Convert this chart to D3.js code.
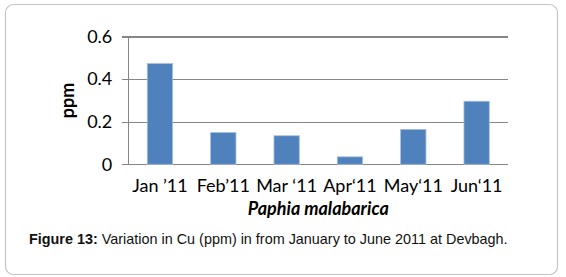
<!DOCTYPE html>
<html lang="en">
<head>
<meta charset="UTF-8">
<title>Cu ppm</title>
<script src="https://cdn.jsdelivr.net/npm/d3@7"></script>
<style>
    body { margin: 0; background: #fff; }
    .axis path { display: none; }
    .grid line { stroke: #868686; stroke-width: 1.3; shape-rendering: crispEdges; }
    .tick text { font-family: Lato, "Open Sans", sans-serif; font-size: 18px; fill: #000; }
</style>
</head>
<body>
<div id="output"></div>
<script>

var months = ["Jan \u201911", "Feb\u201911", "Mar \u201811", "Apr\u201811", "May\u201811", "Jun\u201811"];
var cuValues = [0.473, 0.149, 0.134, 0.035, 0.164, 0.296];
var yTicks = [0, 0.2, 0.4, 0.6];

var w = 566;
var h = 277;

var svg = d3.select("#output")
            .append("svg")
            .attr("width", w)
            .attr("height", h);

// outer frame
svg.append("rect")
    .attr("x", 5.5).attr("y", 4.5)
    .attr("width", 552).attr("height", 270)
    .attr("rx", 8)
    .attr("fill", "none")
    .attr("stroke", "#c4c4c4")
    .attr("stroke-width", 1.2);

var plotLeft = 128.3, plotRight = 508.3, plotTop = 36.5, plotBottom = 164.3;

var xScale = d3.scaleBand()
        .domain(months)
        .range([plotLeft, plotRight])
        .paddingInner(0.6)
        .paddingOuter(0.3);

var yScale = d3.scaleLinear()
        .domain([0, 0.6])
        .range([plotBottom, plotTop]);

// gridlines + y labels
var yAxis = svg.append("g")
        .attr("class", "axis grid")
        .attr("transform", "translate(" + plotRight + ",0)")
        .call(d3.axisLeft(yScale)
            .tickValues(yTicks)
            .tickSize(plotRight - plotLeft + 6)
            .tickPadding(10)
            .tickFormat(function(d){ return d === 0 ? "0" : d3.format(".1f")(d); }));

// vertical axis line
svg.append("line")
    .attr("x1", plotLeft).attr("x2", plotLeft)
    .attr("y1", yScale(0.6)).attr("y2", yScale(0))
    .attr("stroke", "#868686")
    .attr("stroke-width", 1.3)
    .attr("shape-rendering", "crispEdges");

svg.append("g").selectAll("rect")
    .data(cuValues)
    .enter()
    .append("rect")
        .attr("x", function(d, i){ return xScale(months[i]); })
        .attr("y", function(d){ return yScale(d); })
        .attr("width", xScale.bandwidth())
        .attr("height", function(d){ return yScale(0) - yScale(d); })
        .attr("fill", "#4f81bd")
        .attr("stroke", "#a7bedd")
        .attr("stroke-width", 0.8);

var xAxis = svg.append("g")
        .attr("class", "axis")
        .attr("transform", "translate(0," + plotBottom + ")")
        .call(d3.axisBottom(xScale).tickSize(0).tickPadding(15));
xAxis.selectAll("text").attr("dy", "0.71em");

svg.append("text")
    .attr("x", (plotLeft + plotRight) / 2)
    .attr("y", 215)
    .attr("text-anchor", "middle")
    .style("font-family", "Lato, 'Open Sans', sans-serif")
    .style("font-size", "18px")
    .style("font-weight", "bold")
    .style("font-style", "italic")
    .text("Paphia malabarica");

svg.append("text")
    .attr("transform", "translate(74," + ((plotTop + plotBottom) / 2) + ") rotate(-90)")
    .attr("text-anchor", "middle")
    .style("font-family", "Lato, 'Open Sans', sans-serif")
    .style("font-size", "18px")
    .style("font-weight", "bold")
    .text("ppm");

var caption = svg.append("text")
    .attr("x", 29)
    .attr("y", 243.5)
    .style("font-family", "'Liberation Sans', Arial, sans-serif")
    .style("font-size", "14.4px")
    .attr("fill", "#111");
caption.append("tspan").style("font-weight", "bold").text("Figure 13:");
caption.append("tspan").text(" Variation in Cu (ppm) in from January to June 2011 at Devbagh.");

</script>
</body>
</html>
